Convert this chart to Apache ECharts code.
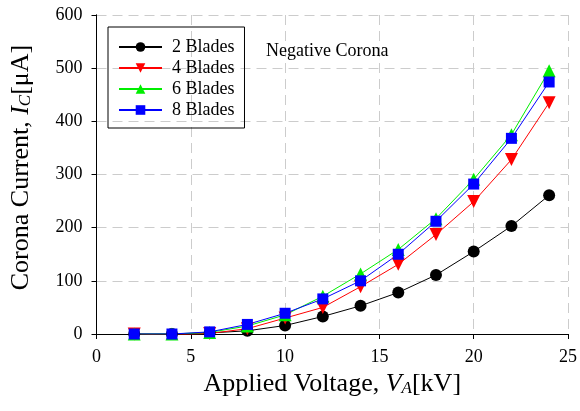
<!DOCTYPE html>
<html>
<head>
<meta charset="utf-8">
<script src="https://cdn.jsdelivr.net/npm/echarts@6/dist/echarts.min.js"></script>
<style>
  html, body { margin: 0; padding: 0; background: #fff; }
  #chart { width: 580px; height: 411px; }
</style>
</head>
<body>
<div id="chart"></div>
<script>
// applied voltage (kV)
var voltage = [2, 4, 6, 8, 10, 12, 14, 16, 18, 20, 22, 24];
// corona current (uA) per blade count
var blades2 = [0, 0, 2, 6, 16, 33, 53, 78, 111, 155, 203, 261];
var blades4 = [0, -2, 1, 10, 30, 50, 89, 131, 187, 249, 328, 435];
var blades6 = [0, 0, 3, 15, 36, 71, 113, 159, 217, 291, 375, 495];
var blades8 = [0, 0, 4, 18, 39, 66, 100, 150, 212, 282, 368, 474];
var seriesNames = ["2 Blades", "4 Blades", "6 Blades", "8 Blades"];

var font = "Liberation Serif";

function pairs(ys) {
  return voltage.map(function (x, i) { return [x, ys[i]]; });
}

function makeSeries(name, ys, color, symbol, size, rotate) {
  return {
    name: name,
    type: "line",
    data: pairs(ys),
    symbol: symbol,
    symbolSize: size,
    symbolRotate: rotate || 0,
    showAllSymbol: true,
    lineStyle: { color: color, width: 1 },
    itemStyle: { color: color, borderWidth: 0 },
    emphasis: { disabled: true },
    z: 3
  };
}

var chart = echarts.init(document.getElementById("chart"));

var gridLine = { show: true, lineStyle: { color: "#cccccc", type: [10, 6], width: 1 } };
var nameRich = {
  i: { fontFamily: font, fontSize: 26, fontStyle: "italic", color: "#000" },
  sub: { fontFamily: font, fontSize: 17, fontStyle: "italic", color: "#000", verticalAlign: "bottom", padding: [10, 0, 0, 0] }
};

var option = {
  animation: false,
  textStyle: { fontFamily: font },
  title: {
    text: "Negative Corona",
    left: 261,
    top: 37,
    textStyle: { fontFamily: font, fontSize: 18, fontWeight: "normal", color: "#000" }
  },
  legend: {
    data: seriesNames,
    orient: "vertical",
    left: 108,
    top: 27,
    padding: [11, 10, 9, 10],
    itemWidth: 43,
    itemHeight: 12,
    itemGap: 3,
    borderColor: "#000",
    borderWidth: 1,
    textStyle: { fontFamily: font, fontSize: 18, color: "#000", padding: [0, 0, 0, 5] }
  },
  grid: { left: 96, right: 8, top: 15, bottom: 77 },
  xAxis: [
    {
      type: "value",
      min: 0, max: 25, interval: 5,
      name: "Applied Voltage, {i|V}{sub|A}[kV]",
      nameLocation: "middle",
      nameGap: 36,
      nameTextStyle: { fontFamily: font, fontSize: 26, color: "#000", rich: nameRich },
      axisLine: { show: true, onZero: false, lineStyle: { color: "#000", width: 1 } },
      axisTick: { show: true, length: 5, lineStyle: { color: "#000" } },
      axisLabel: { fontFamily: font, fontSize: 18, color: "#000", margin: 14 },
      splitLine: gridLine
    },
    {
      type: "value",
      position: "top",
      min: 0, max: 25, interval: 5,
      axisLine: { show: true, lineStyle: { color: "#000", width: 1 } },
      axisTick: { show: false },
      axisLabel: { show: false },
      splitLine: { show: false }
    }
  ],
  yAxis: [
    {
      type: "value",
      min: 0, max: 600, interval: 100,
      name: "Corona Current, {i|I}{sub|C}[\u03bcA]",
      nameLocation: "middle",
      nameGap: 62,
      nameTextStyle: { fontFamily: font, fontSize: 26, color: "#000", rich: nameRich, padding: [0, 0, 0, 14] },
      axisLine: { show: true, onZero: false, lineStyle: { color: "#000", width: 1 } },
      axisTick: { show: true, length: 5, lineStyle: { color: "#000" } },
      axisLabel: { fontFamily: font, fontSize: 18, color: "#000", margin: 14 },
      splitLine: gridLine
    },
    {
      type: "value",
      position: "right",
      min: 0, max: 600, interval: 100,
      axisLine: { show: true, lineStyle: { color: "#000", width: 1 } },
      axisTick: { show: false },
      axisLabel: { show: false },
      splitLine: { show: false }
    }
  ],
  series: [
    makeSeries(seriesNames[0], blades2, "#000000", "circle", 12),
    makeSeries(seriesNames[1], blades4, "#ff0000", "triangle", 13, 180),
    makeSeries(seriesNames[2], blades6, "#00ee00", "triangle", 13),
    makeSeries(seriesNames[3], blades8, "#0000ff", "rect", 11)
  ]
};

chart.setOption(option);
</script>
</body>
</html>
